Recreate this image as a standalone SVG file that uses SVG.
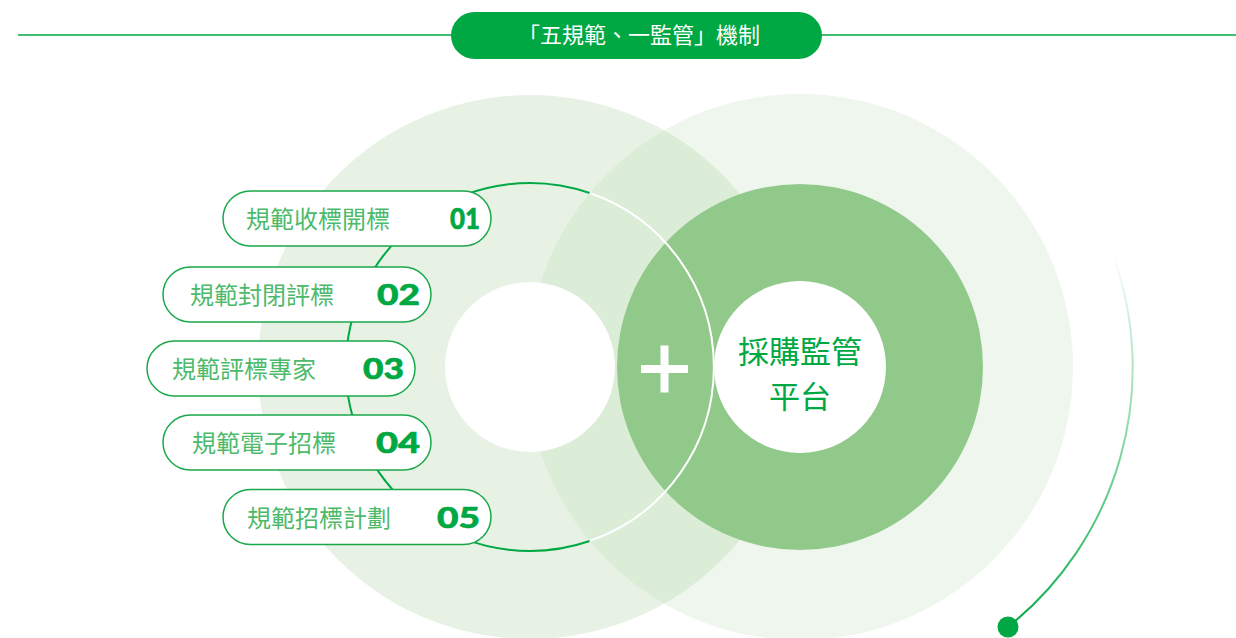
<svg xmlns="http://www.w3.org/2000/svg" width="1236" height="638" viewBox="0 0 1236 638">
<style>
.pill{fill:#fff;stroke:#1aa84a;stroke-width:1.5}
.pt{font-family:"Noto Sans CJK TC","Noto Sans",sans-serif;font-size:24px;fill:#4dba6a}
.num{font-family:Lato,"Open Sans",sans-serif;font-weight:900;font-size:28px;fill:#00a843;text-anchor:end;stroke:#00a843;stroke-width:0.6}
.ct{font-family:"Noto Sans CJK TC","Noto Sans",sans-serif;font-size:31px;fill:#00a843;text-anchor:middle}
</style>
<defs>
<clipPath id="leftClip"><circle cx="530" cy="367" r="272"/></clipPath>
<linearGradient id="arcGrad" gradientUnits="userSpaceOnUse" x1="1113" y1="255" x2="1008" y2="627">
<stop offset="0" stop-color="#00a843" stop-opacity="0"/>
<stop offset="0.35" stop-color="#3cbf6a" stop-opacity="0.5"/>
<stop offset="1" stop-color="#00a843" stop-opacity="1"/>
</linearGradient>
</defs>
<g id="header">
<line x1="18" y1="35" x2="1236" y2="35" stroke="#00a843" stroke-width="1.5"/>
<rect x="451" y="12" width="371" height="47" rx="23.5" fill="#00a843"/>
<text x="639" y="43" text-anchor="middle" font-family="Noto Sans CJK TC,Noto Sans,sans-serif" font-size="22" fill="#fff">「五規範、一監管」機制</text>
</g>
<g id="background-circles">
<circle cx="530" cy="367" r="272" fill="#e7f2e5"/>
<circle cx="800" cy="367" r="273" fill="#eff6ed"/>
<circle cx="800" cy="367" r="273" fill="#dbecd7" clip-path="url(#leftClip)"/>
<circle cx="800" cy="367" r="183" fill="#91c98b"/>
<circle cx="530" cy="367" r="85" fill="#fff"/>
</g>
<g id="connectors">
<path d="M589.7,541 A184,184 0 1 1 589.7,193" fill="none" stroke="#00a843" stroke-width="2"/>
<path d="M589.7,193 A184,184 0 0 1 589.7,541" fill="none" stroke="#fff" stroke-width="2"/>
<path d="M1113,255 A332,332 0 0 1 1008,627" fill="none" stroke="url(#arcGrad)" stroke-width="2"/>
<circle cx="1008" cy="627" r="10.5" fill="#00a843"/>
</g>
<g id="plus">
<rect x="641" y="365" width="47" height="8" fill="#fff"/>
<rect x="660.5" y="345.5" width="8" height="47" fill="#fff"/>
</g>
<g id="platform">
<circle cx="800" cy="367" r="86" fill="#fff"/>
<text class="ct" x="800" y="363">採購監管</text>
<text class="ct" x="800" y="408">平台</text>
</g>
<g id="item1">
<rect class="pill" x="223" y="191" width="268" height="55" rx="27.5"/>
<text class="pt" x="246" y="228">規範收標開標</text>
<text class="num" x="480" y="229" textLength="30" lengthAdjust="spacingAndGlyphs">01</text>
</g>
<g id="item2">
<rect class="pill" x="163" y="267" width="268" height="55" rx="27.5"/>
<text class="pt" x="190" y="304">規範封閉評標</text>
<text class="num" x="420" y="305" textLength="43" lengthAdjust="spacingAndGlyphs">02</text>
</g>
<g id="item3">
<rect class="pill" x="147" y="341" width="268" height="55" rx="27.5"/>
<text class="pt" x="172" y="378">規範評標專家</text>
<text class="num" x="404" y="379" textLength="41" lengthAdjust="spacingAndGlyphs">03</text>
</g>
<g id="item4">
<rect class="pill" x="163" y="415" width="268" height="55" rx="27.5"/>
<text class="pt" x="192" y="452">規範電子招標</text>
<text class="num" x="420" y="453" textLength="44" lengthAdjust="spacingAndGlyphs">04</text>
</g>
<g id="item5">
<rect class="pill" x="223" y="489.5" width="268" height="55" rx="27.5"/>
<text class="pt" x="247" y="527">規範招標計劃</text>
<text class="num" x="480" y="528" textLength="43" lengthAdjust="spacingAndGlyphs">05</text>
</g>
</svg>
